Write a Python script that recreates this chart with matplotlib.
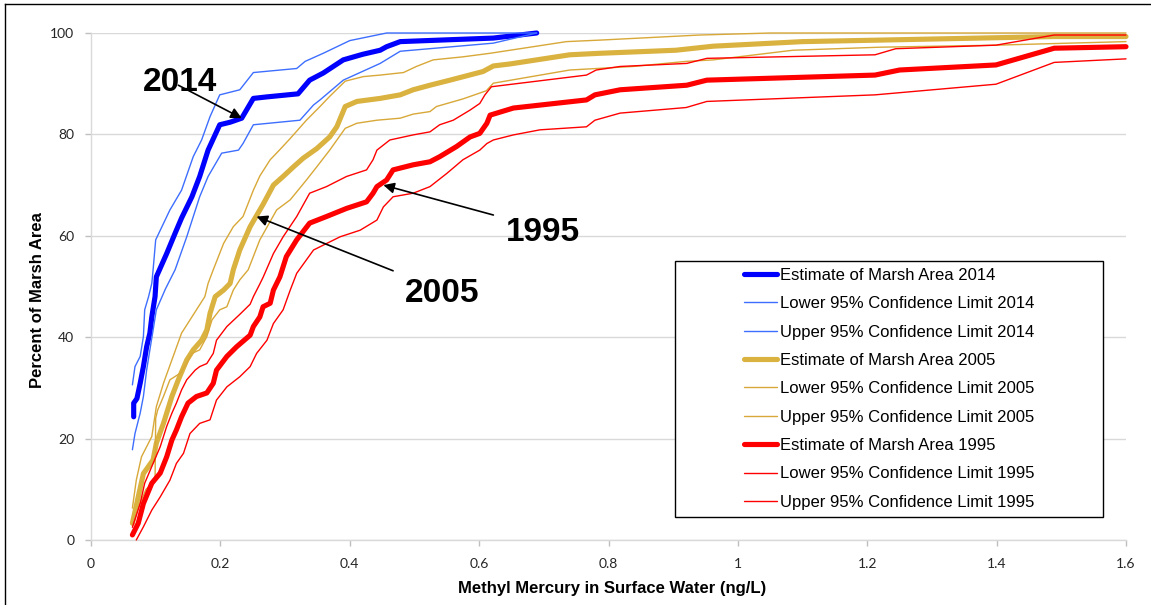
import matplotlib
matplotlib.use("Agg")
import matplotlib.pyplot as plt
from matplotlib.lines import Line2D
from matplotlib.patches import Rectangle
from matplotlib.ticker import FuncFormatter

# ---------------- data ----------------
x_est_2014 = [0.066,0.066,0.071,0.076,0.081,0.086,0.091,0.094,0.099,0.101,0.117,0.130,0.140,0.156,0.168,0.181,0.199,0.215,0.233,0.251,0.272,0.320,0.338,0.359,0.390,0.420,0.447,0.457,0.478,0.560,0.622,0.689]
y_est_2014 = [24.3,27.0,27.9,30.9,34.2,38.1,40.8,44.0,48.0,51.9,56.5,60.5,63.5,67.7,71.7,76.9,81.9,82.4,83.2,87.1,87.4,88.0,90.7,92.1,94.7,95.8,96.6,97.3,98.3,98.7,99.0,100.0]

x_low_2014 = [0.064,0.068,0.076,0.081,0.086,0.091,0.096,0.101,0.115,0.130,0.148,0.168,0.181,0.202,0.228,0.235,0.251,0.323,0.344,0.354,0.390,0.447,0.478,0.622,0.689]
y_low_2014 = [17.8,21.0,25.0,28.3,33.5,37.5,41.4,45.4,49.5,53.3,59.8,67.7,71.7,76.3,76.9,78.2,81.9,82.8,85.8,86.8,90.7,94.0,96.4,98.0,100.0]

x_up_2014 = [0.064,0.068,0.076,0.081,0.083,0.089,0.094,0.096,0.100,0.122,0.140,0.158,0.171,0.184,0.199,0.230,0.251,0.318,0.331,0.359,0.400,0.457,0.689]
y_up_2014 = [30.6,34.2,36.2,40.1,45.4,48.0,50.6,53.3,59.2,65.1,69.0,75.6,78.9,83.5,87.8,88.8,92.2,93.0,94.4,96.0,98.5,100.0,100.0]

x_est_2005 = [0.064,0.073,0.081,0.096,0.101,0.112,0.125,0.135,0.148,0.158,0.171,0.179,0.184,0.192,0.205,0.215,0.220,0.230,0.246,0.256,0.266,0.282,0.297,0.313,0.328,0.349,0.369,0.380,0.393,0.411,0.447,0.478,0.498,0.524,0.555,0.606,0.622,0.648,0.740,0.787,0.904,0.962,1.100,1.220,1.489,1.600]
y_est_2005 = [3.3,8.5,13.1,15.8,19.1,23.0,28.3,31.6,35.5,37.5,39.4,41.4,44.7,48.0,49.3,50.6,53.3,57.2,61.8,64.0,66.2,70.0,71.7,73.6,75.3,77.2,79.5,81.5,85.5,86.5,87.1,87.8,88.8,89.7,90.7,92.4,93.5,93.9,95.7,96.0,96.6,97.4,98.3,98.6,99.3,99.3]

x_low_2005 = [0.064,0.075,0.085,0.099,0.100,0.103,0.112,0.122,0.138,0.148,0.156,0.168,0.179,0.187,0.199,0.210,0.220,0.230,0.243,0.261,0.287,0.308,0.333,0.349,0.369,0.393,0.411,0.442,0.478,0.498,0.524,0.534,0.575,0.611,0.622,0.740,0.838,0.920,0.962,1.085,1.220,1.399,1.484,1.600]
y_low_2005 = [3.0,7.0,10.0,11.5,24.0,25.6,28.3,31.6,32.9,34.8,36.8,37.5,40.1,43.4,45.4,46.0,49.3,51.3,53.3,59.2,65.1,67.1,71.0,73.6,76.9,81.2,82.2,82.8,83.2,84.0,84.5,85.5,87.0,88.6,90.1,92.7,93.4,94.4,94.7,96.6,97.2,97.6,97.9,98.3]

x_up_2005 = [0.064,0.070,0.078,0.094,0.101,0.112,0.125,0.140,0.153,0.163,0.176,0.181,0.189,0.205,0.220,0.235,0.251,0.261,0.277,0.292,0.308,0.333,0.354,0.369,0.393,0.421,0.447,0.483,0.503,0.529,0.575,0.617,0.735,0.787,0.941,1.050,1.600]
y_up_2005 = [6.3,11.8,16.4,20.4,26.3,30.9,35.5,40.8,43.4,45.4,48.0,50.6,53.3,58.5,61.8,63.8,69.0,71.8,75.0,77.0,79.2,82.8,85.5,87.5,90.5,91.4,91.7,92.2,93.4,94.7,95.3,96.0,98.3,98.6,99.6,100.0,100.0]

x_est_1995 = [0.064,0.073,0.081,0.094,0.107,0.117,0.125,0.132,0.140,0.150,0.163,0.179,0.189,0.194,0.210,0.225,0.246,0.251,0.261,0.266,0.277,0.282,0.292,0.302,0.318,0.338,0.364,0.395,0.426,0.436,0.442,0.457,0.467,0.498,0.524,0.539,0.565,0.586,0.601,0.612,0.617,0.653,0.766,0.779,0.818,0.921,0.952,1.212,1.250,1.399,1.489,1.600]
y_est_1995 = [1.0,3.3,7.2,11.2,13.2,16.4,19.7,21.7,24.3,27.0,28.3,29.0,30.9,33.5,36.2,38.1,40.4,42.1,44.0,46.0,46.7,49.3,51.9,55.9,59.2,62.5,63.8,65.4,66.7,68.4,69.7,71.0,73.0,74.0,74.6,75.6,77.6,79.5,80.2,82.2,83.8,85.2,86.8,87.8,88.8,89.7,90.7,91.7,92.7,93.7,97.0,97.3]

x_low_1995 = [0.070,0.081,0.094,0.107,0.122,0.132,0.143,0.153,0.168,0.184,0.194,0.210,0.230,0.246,0.256,0.272,0.282,0.297,0.308,0.318,0.344,0.385,0.416,0.442,0.452,0.467,0.498,0.524,0.550,0.575,0.601,0.612,0.622,0.653,0.694,0.766,0.779,0.818,0.920,0.952,1.212,1.399,1.489,1.600]
y_low_1995 = [0.0,2.6,5.9,8.5,11.8,15.1,17.1,21.0,23.0,23.7,27.6,30.2,32.2,34.2,36.8,39.4,42.7,45.4,49.3,52.6,57.2,59.8,61.1,63.1,65.7,67.7,68.4,69.7,72.3,75.0,76.9,78.2,78.9,79.9,80.9,81.5,82.8,84.2,85.3,86.5,87.8,89.9,94.2,94.9]

x_up_1995 = [0.064,0.076,0.083,0.096,0.107,0.117,0.125,0.132,0.140,0.148,0.161,0.168,0.179,0.189,0.194,0.210,0.230,0.246,0.251,0.261,0.266,0.282,0.297,0.318,0.338,0.364,0.395,0.426,0.436,0.442,0.462,0.498,0.524,0.539,0.560,0.586,0.601,0.609,0.619,0.766,0.781,0.818,0.921,0.952,1.212,1.244,1.399,1.489,1.600]
y_up_1995 = [2.5,7.2,11.2,15.1,18.4,22.4,25.0,27.0,29.6,31.6,33.5,34.2,34.8,36.8,39.4,42.1,44.5,46.5,48.0,50.5,51.8,56.5,59.8,63.8,68.4,69.7,71.7,73.0,75.0,76.9,78.9,79.9,80.5,81.9,82.8,84.8,86.1,87.8,89.4,91.7,92.7,93.4,94.0,95.0,95.7,96.9,97.6,99.6,99.6]

labels = ["Estimate of Marsh Area 2014", "Lower 95% Confidence Limit 2014", "Upper 95% Confidence Limit 2014",
          "Estimate of Marsh Area 2005", "Lower 95% Confidence Limit 2005", "Upper 95% Confidence Limit 2005",
          "Estimate of Marsh Area 1995", "Lower 95% Confidence Limit 1995", "Upper 95% Confidence Limit 1995"]

x_ticks = [0, 0.2, 0.4, 0.6, 0.8, 1.0, 1.2, 1.4, 1.6]
y_ticks = [0, 20, 40, 60, 80, 100]

annot_text = ["2014", "2005", "1995"]
annot_text_xy = [(0.1371, 90.2), (0.5433, 48.7), (0.6985, 60.7)]
annot_tail = [(0.135, 89.7), (0.467, 53.1), (0.622, 64.1)]
annot_head = [(0.233, 83.2), (0.256, 63.8), (0.452, 70.0)]

# ---------------- figure ----------------
W, H = 1151, 605
fig = plt.figure(figsize=(W / 100, H / 100), dpi=100)
ax = fig.add_axes([91 / W, 1 - 540 / H, (1126 - 91) / W, (540 - 33) / H])

BLUE, BLUE_T = "#0000FF", "#3D6EFF"
GOLD, GOLD_T = "#DAB240", "#D8A838"
RED, RED_T = "#FF0000", "#FF0000"
TW, NW = 3.7, 1.0

series = [
    (x_est_2014, y_est_2014, BLUE, TW), (x_low_2014, y_low_2014, BLUE_T, NW), (x_up_2014, y_up_2014, BLUE_T, NW),
    (x_est_2005, y_est_2005, GOLD, TW), (x_low_2005, y_low_2005, GOLD_T, NW), (x_up_2005, y_up_2005, GOLD_T, NW),
    (x_est_1995, y_est_1995, RED, TW), (x_low_1995, y_low_1995, RED_T, NW), (x_up_1995, y_up_1995, RED_T, NW),
]
handles = []
for (xs, ys, c, lw), lab in zip(series, labels):
    ln, = ax.plot(xs, ys, color=c, lw=lw, solid_capstyle="round", solid_joinstyle="round",
                  clip_on=False, label=lab, zorder=3)
    handles.append(ln)

ax.set_xlim(0, 1.6)
ax.set_ylim(0, 100)
ax.set_xticks(x_ticks)
ax.set_yticks(y_ticks)
ax.xaxis.set_major_formatter(FuncFormatter(lambda v, p: f"{v:g}"))
ax.grid(axis="y", color="#D9D9D9", lw=1.0, zorder=0)
ax.set_axisbelow(True)
for s in ["top", "right"]:
    ax.spines[s].set_visible(False)
for s in ["left", "bottom"]:
    ax.spines[s].set_color("#D9D9D9")
    ax.spines[s].set_linewidth(1.0)
ax.tick_params(axis="both", colors="#BFBFBF", length=4, width=1.0, direction="out")
ax.tick_params(axis="y", pad=8)
ax.tick_params(axis="x", pad=9)
for t in ax.get_xticklabels() + ax.get_yticklabels():
    t.set_fontfamily("Lato")
    t.set_fontsize(10)
    t.set_color("#262626")

fig.text(38 / W, 1 - 300 / H, "Percent of Marsh Area", rotation=90, ha="center", va="center",
         fontsize=12, fontweight="bold", family="Liberation Sans")
fig.text(612 / W, 1 - 588 / H, "Methyl Mercury in Surface Water (ng/L)", ha="center", va="center",
         fontsize=12, fontweight="bold", family="Liberation Sans")

for txt, txy, tail, head in zip(annot_text, annot_text_xy, annot_tail, annot_head):
    ax.annotate("", xy=head, xytext=tail,
                arrowprops=dict(arrowstyle="-|>", color="black", lw=1.2, mutation_scale=16,
                                shrinkA=0, shrinkB=0), zorder=6)
    ax.text(txy[0], txy[1], txt, ha="center", va="center", fontsize=24, fontweight="bold",
            family="Liberation Sans", zorder=7)

# legend box
rect = Rectangle((675 / W, 1 - 516.7 / H), (1103.3 - 675) / W, (516.7 - 261) / H,
                 transform=fig.transFigure, facecolor="white", edgecolor="black", lw=1.0, zorder=8)
fig.add_artist(rect)
leg = fig.legend(handles=handles, loc="upper left", bbox_to_anchor=(744 / W, 1 - 268 / H),
                 bbox_transform=fig.transFigure, frameon=False, borderpad=0, borderaxespad=0,
                 handlelength=1.98, handletextpad=0.18, labelspacing=0.80,
                 prop={"family": "Liberation Sans", "size": 12})
leg.set_zorder(9)

# outer frame
fig.add_artist(Line2D([5 / W, 5 / W], [0, 1 - 4 / H], color="black", lw=1.0, transform=fig.transFigure))
fig.add_artist(Line2D([5 / W, 1], [1 - 4 / H, 1 - 4 / H], color="black", lw=1.0, transform=fig.transFigure))

fig.savefig("out.png", dpi=100)
